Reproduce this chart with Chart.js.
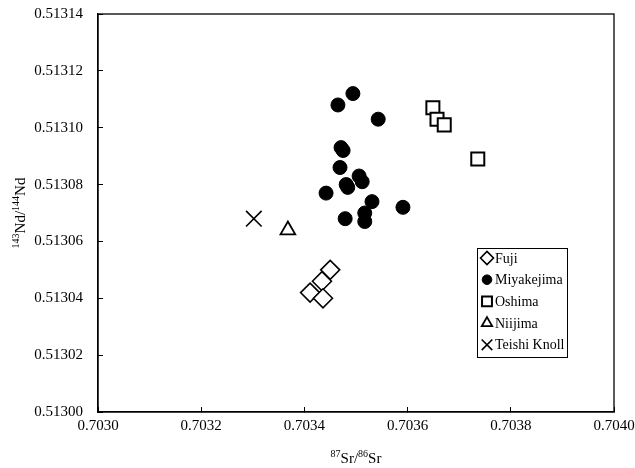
<!DOCTYPE html>
<html>
<head>
<meta charset="utf-8">
<script src="https://cdn.jsdelivr.net/npm/chart.js@4.4.1/dist/chart.umd.min.js"></script>
<style>
  html, body { margin: 0; padding: 0; background: #fff; }
  #wrap { width: 635px; height: 468px; }
</style>
</head>
<body>
<div id="wrap"><canvas id="srnd" width="635" height="468"></canvas></div>
<script>
// 87Sr/86Sr vs 143Nd/144Nd, Izu arc volcanoes
var fujiSr = [0.703450, 0.703434, 0.703411, 0.703436];
var fujiNd = [0.513050, 0.513046, 0.513042, 0.513040];

var miyakeSr = [0.703465, 0.703494, 0.703543, 0.703471, 0.703475, 0.703469, 0.703506, 0.703512,
                0.703481, 0.703484, 0.703442, 0.703531, 0.703591, 0.703479, 0.703517, 0.703517];
var miyakeNd = [0.513108, 0.513112, 0.513103, 0.513093, 0.513092, 0.513086, 0.513083, 0.513081,
                0.513080, 0.513079, 0.513077, 0.513074, 0.513072, 0.513068, 0.513070, 0.513067];

var oshimaSr = [0.703649, 0.703657, 0.703671, 0.703736];
var oshimaNd = [0.513107, 0.513103, 0.513101, 0.513089];

var niijimaSr = [0.703368];
var niijimaNd = [0.513064];

var teishiSr = [0.703302];
var teishiNd = [0.513068];

var xTicks = [0.7030, 0.7032, 0.7034, 0.7036, 0.7038, 0.7040];
var yTicks = [0.51300, 0.51302, 0.51304, 0.51306, 0.51308, 0.51310, 0.51312, 0.51314];

var serif = "'Liberation Serif', 'Times New Roman', serif";

function pts(xs, ys) {
    return xs.map(function (x, i) { return {x: x, y: ys[i]}; });
}

// little legend marker sizes differ from the plotted ones
var datasets = [
    {label: 'Fuji', data: pts(fujiSr, fujiNd), pointStyle: 'rectRot', pointRadius: 9.5,
     backgroundColor: '#fff', borderColor: '#000', borderWidth: 1.6, legendRadius: 6.5},
    {label: 'Miyakejima', data: pts(miyakeSr, miyakeNd), pointStyle: 'circle', pointRadius: 7,
     backgroundColor: '#000', borderColor: '#000', borderWidth: 1, legendRadius: 4.8},
    {label: 'Oshima', data: pts(oshimaSr, oshimaNd), pointStyle: 'rect', pointRadius: 9.2,
     backgroundColor: '#fff', borderColor: '#000', borderWidth: 2, legendRadius: 7},
    {label: 'Niijima', data: pts(niijimaSr, niijimaNd), pointStyle: 'triangle', pointRadius: 8.5,
     backgroundColor: '#fff', borderColor: '#000', borderWidth: 1.8, legendRadius: 6},
    {label: 'Teishi Knoll', data: pts(teishiSr, teishiNd), pointStyle: 'crossRot', pointRadius: 11,
     backgroundColor: '#fff', borderColor: '#000', borderWidth: 1.6, legendRadius: 7.5}
];
datasets.forEach(function (d) { d.pointHoverRadius = d.pointRadius; });

// boxed legend sitting inside the plot, lower right
var boxLegend = {
    id: 'boxLegend',
    afterDraw: function (chart) {
        var ctx = chart.ctx;
        var bx = 477, by = 248, bw = 90, bh = 109, rowH = 21.7;
        ctx.save();
        ctx.fillStyle = '#fff';
        ctx.fillRect(bx, by, bw, bh);
        ctx.strokeStyle = '#000';
        ctx.lineWidth = 1;
        ctx.strokeRect(bx + 0.5, by + 0.5, bw, bh);
        ctx.font = '14px ' + serif;
        ctx.textBaseline = 'middle';
        chart.data.datasets.forEach(function (d, i) {
            var cy = by + 10 + i * rowH;
            ctx.fillStyle = d.backgroundColor;
            ctx.strokeStyle = d.borderColor;
            ctx.lineWidth = d.borderWidth;
            Chart.helpers.drawPoint(ctx, {pointStyle: d.pointStyle, radius: d.legendRadius,
                rotation: 0, borderWidth: d.borderWidth}, bx + 10, cy);
            ctx.fillStyle = '#000';
            ctx.textAlign = 'left';
            ctx.fillText(d.label, bx + 18, cy + 1);
        });
        ctx.restore();
    }
};

// frame round the plot plus the axis titles with superscript mass numbers
function supText(ctx, parts, cx, baseY) {
    var big = '15px ' + serif, small = '10px ' + serif;
    var total = 0;
    parts.forEach(function (p) {
        ctx.font = p[1] ? small : big;
        total += ctx.measureText(p[0]).width;
    });
    var x = cx - total / 2;
    parts.forEach(function (p) {
        ctx.font = p[1] ? small : big;
        ctx.fillText(p[0], x, p[1] ? baseY - 6 : baseY);
        x += ctx.measureText(p[0]).width;
    });
}

var frameAndTitles = {
    id: 'frameAndTitles',
    beforeDatasetsDraw: function (chart) {
        var ctx = chart.ctx, a = chart.chartArea;
        ctx.save();
        ctx.strokeStyle = '#000';
        ctx.lineWidth = 1.3;
        ctx.strokeRect(a.left, a.top, a.right - a.left, a.bottom - a.top);
        ctx.restore();
    },
    afterDraw: function (chart) {
        var ctx = chart.ctx, area = chart.chartArea;
        ctx.save();
        ctx.fillStyle = '#000';
        ctx.textAlign = 'left';
        ctx.textBaseline = 'alphabetic';
        supText(ctx, [['87', true], ['Sr/', false], ['86', true], ['Sr', false]],
                (area.left + area.right) / 2, 463);
        ctx.translate(25, (area.top + area.bottom) / 2);
        ctx.rotate(-Math.PI / 2);
        supText(ctx, [['143', true], ['Nd/', false], ['144', true], ['Nd', false]], 0, 0);
        ctx.restore();
    }
};

var ctx = document.getElementById('srnd').getContext('2d');
var chart = new Chart(ctx, {
    type: 'scatter',
    data: {datasets: datasets},
    options: {
        responsive: false,
        animation: false,
        devicePixelRatio: 1,
        layout: {autoPadding: false, padding: {top: 14, right: 21, left: 0, bottom: 0}},
        plugins: {
            legend: {display: false},
            tooltip: {enabled: false}
        },
        scales: {
            x: {
                type: 'linear',
                min: xTicks[0],
                max: xTicks[xTicks.length - 1],
                afterBuildTicks: function (s) { s.ticks = xTicks.map(function (v) { return {value: v}; }); },
                afterFit: function (s) {
                    s.height = 56;
                    s.paddingLeft = 0;
                    s.paddingRight = 0;
                },
                border: {display: true, color: '#000', width: 1.3},
                grid: {drawOnChartArea: false, color: '#000', tickLength: -5, tickWidth: 1},
                ticks: {
                    color: '#000',
                    padding: 10,
                    maxRotation: 0,
                    font: {family: serif, size: 15},
                    callback: function (v) { return v.toFixed(4); }
                }
            },
            y: {
                type: 'linear',
                min: yTicks[0],
                max: yTicks[yTicks.length - 1],
                afterBuildTicks: function (s) { s.ticks = yTicks.map(function (v) { return {value: v}; }); },
                afterFit: function (s) {
                    s.width = 98;
                    s.paddingTop = 0;
                    s.paddingBottom = 0;
                },
                border: {display: true, color: '#000', width: 1.3},
                grid: {drawOnChartArea: false, color: '#000', tickLength: -5, tickWidth: 1},
                ticks: {
                    color: '#000',
                    padding: 20,
                    font: {family: serif, size: 15},
                    callback: function (v) { return v.toFixed(5); }
                }
            }
        }
    },
    plugins: [boxLegend, frameAndTitles]
});
</script>
</body>
</html>
